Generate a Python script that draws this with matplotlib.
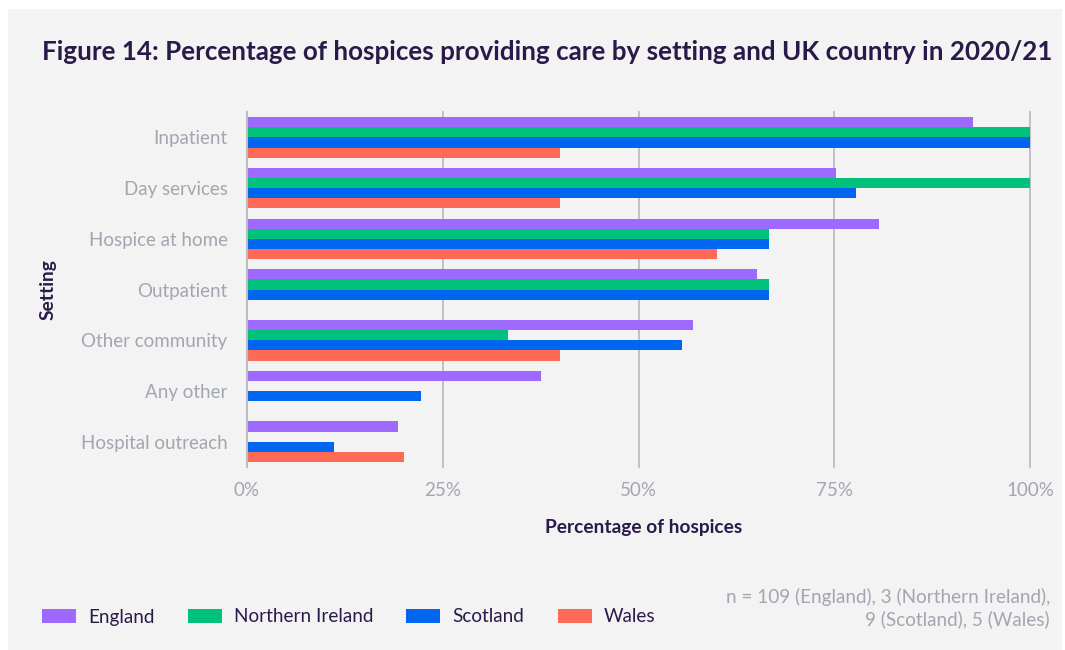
import matplotlib
matplotlib.use("Agg")
import matplotlib.pyplot as plt
from matplotlib.patches import Rectangle, Patch
import numpy as np

plt.rcParams['font.family'] = ['Lato', 'DejaVu Sans']

settings = ["Inpatient", "Day services", "Hospice at home", "Outpatient",
            "Other community", "Any other", "Hospital outreach"]
series_names = ["England", "Northern Ireland", "Scotland", "Wales"]
england = [92.7, 75.2, 80.7, 65.1, 56.9, 37.6, 19.3]
northern_ireland = [100, 100, 66.7, 66.7, 33.3, 0, 0]
scotland = [100, 77.8, 66.7, 66.7, 55.6, 22.2, 11.1]
wales = [40, 40, 60, 0, 40, 0, 20]
x_ticks = [0, 25, 50, 75, 100]
x_tick_labels = ["0%", "25%", "50%", "75%", "100%"]

colors = ["#9d69ff", "#00c27a", "#0066f0", "#ff6a57"]
title_color = "#2a1a4a"
tick_color = "#a2a6b0"
grid_color = "#b9bcc5"
panel_color = "#f3f3f3"

W, H = 1065, 650
fig = plt.figure(figsize=(W / 100, H / 100), dpi=100, facecolor="white")
fig.patches.append(Rectangle((8 / W, 0), 1 - 11 / W, 1 - 9 / H, transform=fig.transFigure,
                             facecolor=panel_color, edgecolor="none", zorder=-10))

ax = fig.add_axes([247 / W, 1 - 467 / H, (1030 - 247) / W, (467 - 112) / H])
ax.set_facecolor("none")

y = np.arange(len(settings))
bh = 0.2
all_series = [england, northern_ireland, scotland, wales]
for i, (vals, c, name) in enumerate(zip(all_series, colors, series_names)):
    ax.barh(y + (i - 1.5) * bh, vals, height=bh, color=c, label=name, zorder=3)

ax.set_xlim(0, 100)
ax.set_ylim(len(settings) - 0.5, -0.5)
for xv in x_ticks[1:]:
    ax.axvline(xv, color=grid_color, linewidth=1.3, zorder=1, clip_on=False)
for s in ["top", "right", "bottom"]:
    ax.spines[s].set_visible(False)
ax.spines["left"].set_color(grid_color)
ax.spines["left"].set_linewidth(1.5)
ax.spines["left"].set_zorder(4)

ax.set_xticks(x_ticks)
ax.set_xticklabels(x_tick_labels)
ax.set_yticks(y)
ax.set_yticklabels(settings)
ax.tick_params(axis="both", length=0, colors=tick_color, labelsize=13.5)
ax.tick_params(axis="x", pad=11)
ax.tick_params(axis="y", pad=14)

fig.text(42 / W, 1 - 52 / H, "Figure 14: Percentage of hospices providing care by setting and UK country in 2020/21",
         fontsize=18.7, fontweight="bold", color=title_color, va="center", ha="left")
fig.text(644 / W, 1 - 527 / H, "Percentage of hospices", fontsize=13.8, fontweight="bold",
         color=title_color, ha="center", va="center")
fig.text(48 / W, 1 - 290 / H, "Setting", fontsize=13.8, fontweight="bold", color=title_color,
         ha="center", va="center", rotation=90)

handles = [Patch(facecolor=c, edgecolor="none") for c in colors]
leg = fig.legend(handles, series_names, loc="center left", bbox_to_anchor=(42 / W, 1 - 617 / H),
                 ncol=4, frameon=False, fontsize=13.6, handlelength=1.8, handleheight=0.8,
                 handletextpad=0.65, columnspacing=1.75, borderpad=0, borderaxespad=0)
for t in leg.get_texts():
    t.set_color(title_color)

fig.text(1050 / W, 1 - 608 / H, "n = 109 (England), 3 (Northern Ireland),\n9 (Scotland), 5 (Wales)",
         fontsize=13.6, color=tick_color, ha="right", va="center", multialignment="right", linespacing=1.3)

fig.savefig("out.png", dpi=100, facecolor="white")
